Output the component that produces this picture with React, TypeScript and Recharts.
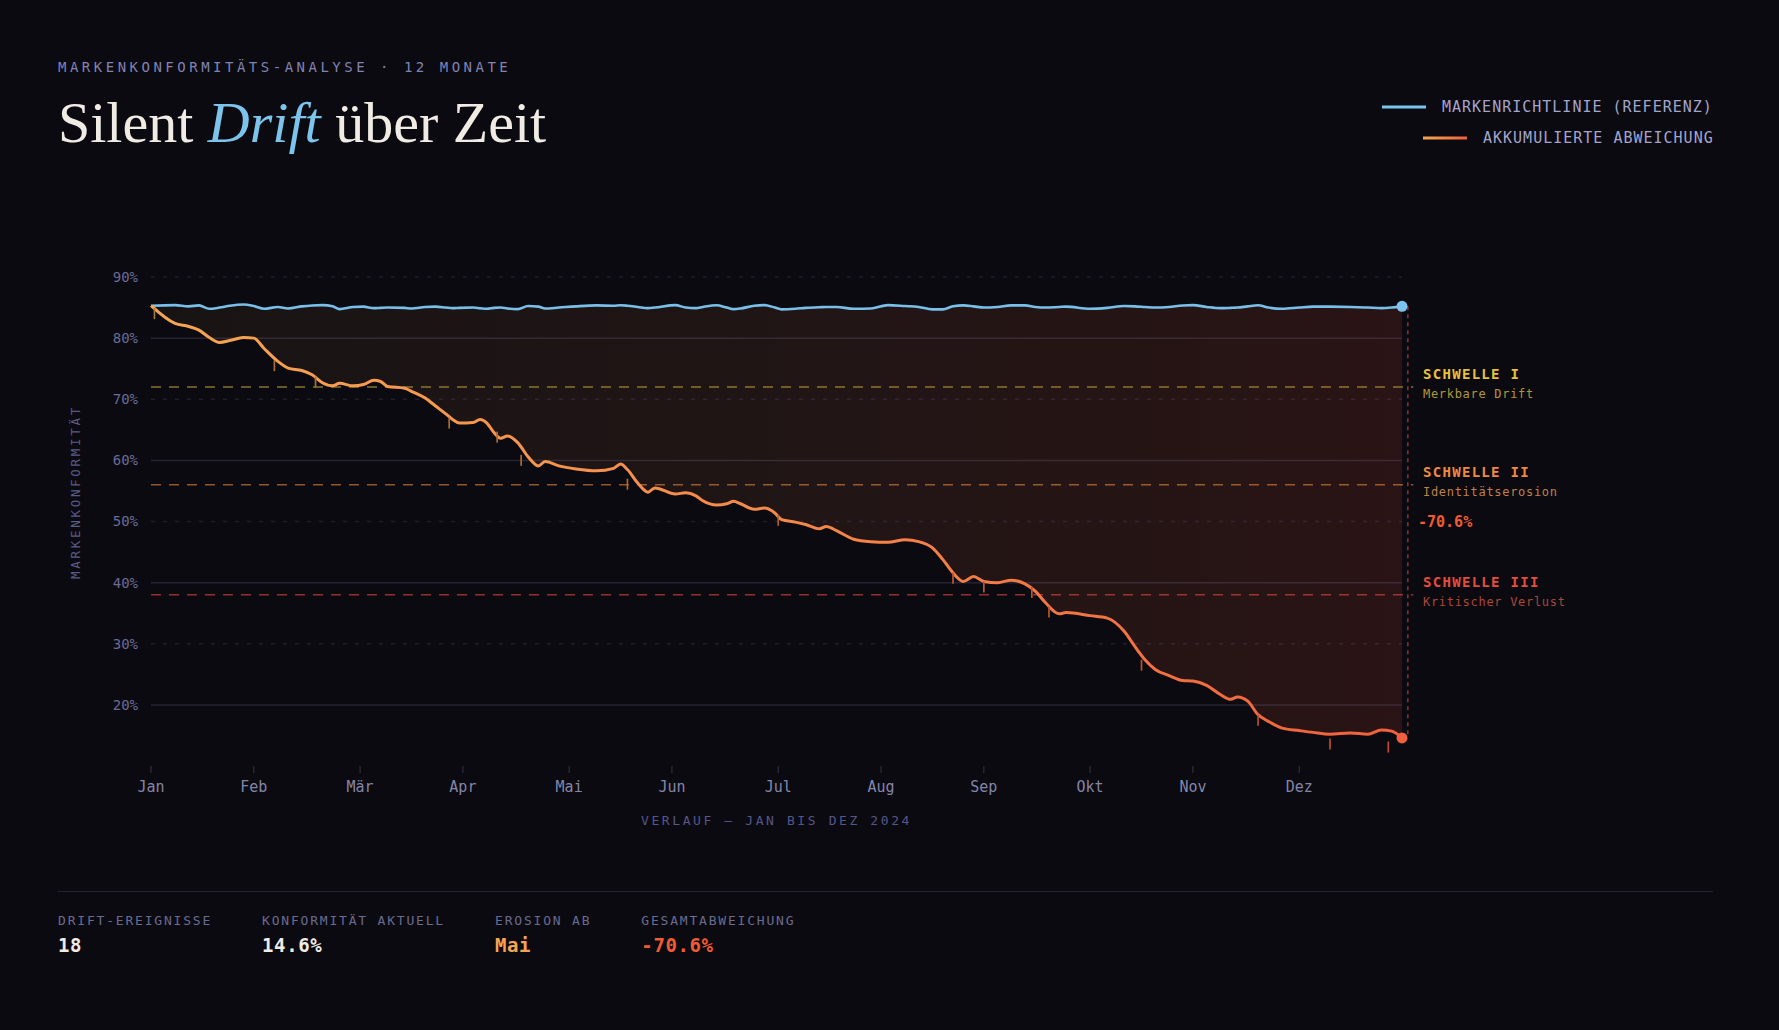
import React from "react";
import { ComposedChart, Line, Area, XAxis, YAxis, ReferenceLine, ReferenceDot, Scatter } from "recharts";

// Tag im Jahr (0 = 1. Jan, 365 = 31. Dez)
const days = [
  0, 7, 11, 14, 17, 20, 23, 27, 30, 33,
  37, 40, 44, 47, 50, 53, 55, 59, 62, 65,
  67, 69, 74, 76, 80, 83, 86, 88, 90, 94,
  96, 98, 100, 102, 104, 107, 110, 113, 115, 119,
  124, 130, 135, 137, 139, 142, 145, 147, 153, 156,
  159, 161, 165, 168, 170, 172, 176, 179, 182, 184,
  188, 191, 195, 197, 200, 205, 210, 215, 220, 224,
  228, 231, 234, 237, 240, 243, 247, 251, 255, 258,
  261, 265, 267, 274, 279, 284, 287, 290, 293, 297,
  301, 304, 308, 312, 315, 317, 320, 323, 326, 330,
  335, 339, 344, 350, 355, 359, 362, 365,
];

const reference = [
  85.3, 85.4, 85.2, 85.35, 84.8, 85.0, 85.3, 85.5, 85.25, 84.8,
  85.1, 84.85, 85.2, 85.35, 85.4, 85.2, 84.75, 85.1, 85.15, 84.9,
  84.95, 85.0, 84.95, 84.85, 85.1, 85.15, 85.0, 84.9, 84.95, 85.0,
  84.9, 84.8, 84.95, 85.0, 84.85, 84.75, 85.25, 85.15, 84.85, 85.0,
  85.2, 85.35, 85.3, 85.37, 85.3, 85.1, 84.9, 85.0, 85.4, 85.0,
  84.9, 85.1, 85.37, 85.0, 84.75, 84.85, 85.3, 85.4, 85.0, 84.7,
  84.8, 84.95, 85.05, 85.1, 85.1, 84.8, 84.85, 85.4, 85.25, 85.1,
  84.7, 84.7, 85.2, 85.35, 85.2, 85.0, 85.1, 85.35, 85.35, 85.1,
  85.0, 85.1, 85.15, 84.8, 84.95, 85.25, 85.2, 85.1, 85.0, 85.1,
  85.35, 85.4, 85.1, 84.9, 84.95, 85.0, 85.2, 85.37, 85.0, 84.8,
  85.0, 85.15, 85.15, 85.1, 85.0, 84.9, 85.0, 85.2,
];

const drift = [
  85.3, 82.4, 81.9, 81.3, 80.1, 79.3, 79.6, 80.1, 80.0, 78.3,
  76.2, 75.1, 74.7, 74.0, 72.7, 72.2, 72.6, 72.2, 72.4, 73.1,
  72.9, 72.1, 71.8, 71.3, 70.2, 68.9, 67.6, 66.7, 66.1, 66.2,
  66.7, 66.1, 64.6, 63.6, 64.0, 62.9, 60.6, 59.1, 59.8, 59.1,
  58.6, 58.3, 58.7, 59.4, 58.5, 56.3, 54.8, 55.5, 54.5, 54.7,
  54.2, 53.4, 52.7, 52.9, 53.3, 52.9, 52.0, 52.2, 51.4, 50.3,
  49.9, 49.5, 48.8, 49.2, 48.5, 47.1, 46.7, 46.6, 47.0, 46.7,
  45.7, 43.8, 41.6, 40.2, 41.0, 40.2, 40.0, 40.4, 39.8, 38.6,
  36.7, 34.9, 35.1, 34.6, 34.2, 32.0, 29.6, 27.4, 25.8, 24.8,
  24.0, 23.9, 23.2, 21.7, 20.9, 21.3, 20.6, 18.4, 17.3, 16.2,
  15.8, 15.5, 15.2, 15.4, 15.2, 15.9, 15.7, 14.6,
];

// Drift-Ereignisse (kleine Markierungen unter der Kurve)
const eventDays = [1, 36, 48, 87, 101, 108, 139, 183, 234, 243, 257, 262, 289, 323, 344, 361];
const eventValues = [84.9, 76.4, 73.7, 67.0, 64.7, 60.9, 57.0, 51.1, 41.6, 40.2, 39.3, 36.1, 27.4, 18.4, 14.5, 14.0];

const monthLabels = ["Jan", "Feb", "Mär", "Apr", "Mai", "Jun", "Jul", "Aug", "Sep", "Okt", "Nov", "Dez"];
const monthTicks = [0, 30, 61, 91, 122, 152, 183, 213, 243, 274, 304, 335];
const yTicks = [20, 30, 40, 50, 60, 70, 80, 90];
const solidGrid = [20, 40, 60, 80];
const dashedGrid = [30, 50, 70, 90];

const thresholdValues = [72, 56, 38];
const thresholdTitles = ["SCHWELLE I", "SCHWELLE II", "SCHWELLE III"];
const thresholdSubtitles = ["Merkbare Drift", "Identitätserosion", "Kritischer Verlust"];

const statLabels = ["DRIFT-EREIGNISSE", "KONFORMITÄT AKTUELL", "EROSION AB", "GESAMTABWEICHUNG"];
const statValues = ["18", "14.6%", "Mai", "-70.6%"];

const BG = "#0a0a10";
const MONO = "'DejaVu Sans Mono', 'Liberation Mono', monospace";
const thresholdLine = ["#c9a83c", "#d9813f", "#d8493a"];
const thresholdTitleColor = ["#e8c23a", "#f08a40", "#e84c3c"];
const thresholdSubColor = ["#b09838", "#c08048", "#a8483a"];
const statColors = ["#f0ebe3", "#f0ebe3", "#f5a552", "#f25a32"];

const rows = days.map((day, i) => ({
  day,
  ref: reference[i],
  drift: drift[i],
  band: [drift[i], reference[i]],
}));
const eventRows = eventDays.map((day, i) => ({ day, value: eventValues[i] }));

const last = days.length - 1;
const lastDay = days[last];
const refEnd = reference[last];
const driftEnd = drift[last];
const gap = Math.round((refEnd - driftEnd) * 10) / 10;

function mix(a: string, b: string, t: number) {
  const pa = [1, 3, 5].map((k) => parseInt(a.slice(k, k + 2), 16));
  const pb = [1, 3, 5].map((k) => parseInt(b.slice(k, k + 2), 16));
  const c = pa.map((v, k) => Math.round(v + (pb[k] - v) * t));
  return `rgb(${c[0]},${c[1]},${c[2]})`;
}

function EventTick(props: any) {
  const { cx, cy } = props;
  if (cx == null || cy == null) return null;
  const t = Math.min(1, Math.max(0, (cx - 151) / 1251));
  return <line x1={cx} y1={cy} x2={cx} y2={cy + 11} stroke={mix("#a07838", "#c4462f", t)} strokeWidth={1.7} />;
}

function thresholdLabel(i: number) {
  return (props: any) => {
    const { cx, cy } = props;
    if (cx == null || cy == null) return <g />;
    return (
      <g>
        <text x={cx + 21} y={cy - 13} dominantBaseline="central" fill={thresholdTitleColor[i]}
          fontFamily={MONO} fontSize={14} fontWeight={700} letterSpacing={1.3}>
          {thresholdTitles[i]}
        </text>
        <text x={cx + 21} y={cy + 7} dominantBaseline="central" fill={thresholdSubColor[i]}
          fontFamily={MONO} fontSize={12} letterSpacing={0.7}>
          {thresholdSubtitles[i]}
        </text>
      </g>
    );
  };
}

function gapLabel(props: any) {
  const { cx, cy } = props;
  if (cx == null || cy == null) return <g />;
  return (
    <text x={cx + 16} y={cy} dominantBaseline="central" fill="#f25a30" fontFamily={MONO} fontSize={15} fontWeight={700}>
      {`-${gap.toFixed(1)}%`}
    </text>
  );
}

export default function App() {
  let statX = 58;
  const statPos = statLabels.map((l) => {
    const x = statX;
    statX += l.length * 9.63 + 50;
    return x;
  });

  return (
    <div style={{ position: "relative", width: 1779, height: 1030, background: BG, overflow: "hidden" }}>
      <style>{`body{margin:0;background:${BG};}`}</style>
      <div style={{ position: "absolute", left: 0, top: 0 }}>
        <ComposedChart width={1779} height={1030} data={rows} margin={{ top: 277, right: 377, bottom: 234, left: 91 }}>
          <defs>
            <linearGradient id="bandFill" x1="0" y1="0" x2="1" y2="0">
              <stop offset="0%" stopColor="#f5a050" stopOpacity={0.1} />
              <stop offset="50%" stopColor="#f27841" stopOpacity={0.16} />
              <stop offset="100%" stopColor="#f05032" stopOpacity={0.23} />
            </linearGradient>
            <linearGradient id="driftStroke" x1="0" y1="0" x2="1" y2="0">
              <stop offset="0%" stopColor="#f7a552" />
              <stop offset="50%" stopColor="#f5894a" />
              <stop offset="100%" stopColor="#f0603c" />
            </linearGradient>
          </defs>
          <XAxis
            dataKey="day"
            type="number"
            domain={[0, 365]}
            ticks={monthTicks}
            tickFormatter={(v: number) => monthLabels[monthTicks.indexOf(v)]}
            axisLine={false}
            tickLine={{ stroke: "#34344a" }}
            tickSize={7}
            tickMargin={8}
            height={30}
            interval={0}
            tick={{ fill: "#8585a8", fontSize: 15, fontFamily: MONO }}
          />
          <YAxis
            type="number"
            domain={[10, 90]}
            ticks={yTicks}
            tickFormatter={(v: number) => `${v}%`}
            axisLine={false}
            tickLine={false}
            tickMargin={7}
            width={60}
            interval={0}
            tick={{ fill: "#6b6b96", fontSize: 14, fontFamily: MONO }}
          />
          {solidGrid.map((v) => (
            <ReferenceLine key={`s${v}`} y={v} stroke="#8a80b0" strokeOpacity={0.22} strokeWidth={1.5} />
          ))}
          {dashedGrid.map((v) => (
            <ReferenceLine key={`d${v}`} y={v} stroke="#8a80b0" strokeOpacity={0.17} strokeWidth={1.5} strokeDasharray="4 8" />
          ))}
          <Area
            dataKey="band"
            type="monotone"
            fill="url(#bandFill)"
            stroke="none"
            isAnimationActive={false}
          />
          {thresholdValues.map((v, i) => (
            <ReferenceLine
              key={`t${v}`}
              segment={[{ x: 0, y: v }, { x: lastDay + 3.3, y: v }]}
              ifOverflow="visible"
              stroke={thresholdLine[i]}
              strokeOpacity={0.65}
              strokeWidth={1.5}
              strokeDasharray="10 8"
            />
          ))}
          <ReferenceLine
            segment={[{ x: lastDay + 1.7, y: refEnd }, { x: lastDay + 1.7, y: driftEnd }]}
            ifOverflow="visible"
            stroke="#b0402e"
            strokeOpacity={0.8}
            strokeWidth={1.5}
            strokeDasharray="4 4"
          />
          <Line dataKey="ref" type="monotone" stroke="#78c0ea" strokeWidth={2.6} dot={false} isAnimationActive={false} />
          <Line dataKey="drift" type="monotone" stroke="url(#driftStroke)" strokeWidth={3} dot={false} isAnimationActive={false} />
          <Scatter data={eventRows} dataKey="value" shape={EventTick} isAnimationActive={false} />
          <ReferenceDot x={lastDay} y={refEnd} r={5.5} fill="#7cc4ec" stroke="none" />
          <ReferenceDot x={lastDay} y={driftEnd} r={5.5} fill="#f06040" stroke="none" />
          {thresholdValues.map((v, i) => (
            <ReferenceDot key={`l${v}`} x={lastDay} y={v} r={0} shape={thresholdLabel(i)} />
          ))}
          <ReferenceDot x={lastDay} y={(refEnd + driftEnd) / 2} r={0} shape={gapLabel} />
        </ComposedChart>
      </div>
      <svg width={1779} height={1030} style={{ position: "absolute", left: 0, top: 0, pointerEvents: "none" }}>
        <text x={58} y={67} dominantBaseline="central" fill="#8282b4" fontFamily={MONO} fontSize={14} letterSpacing={3.5}>
          MARKENKONFORMITÄTS-ANALYSE · 12 MONATE
        </text>
        <text x={58} y={142} fill="#f0ebe3" fontFamily="'Liberation Serif', serif" fontSize={58}>
          {"Silent "}
          <tspan fill="#7cc4ec" fontStyle="italic">Drift</tspan>
          {" über Zeit"}
        </text>

        <line x1={1382} y1={107} x2={1426} y2={107} stroke="#7cc4ec" strokeWidth={3} />
        <text x={1442} y={107} dominantBaseline="central" fill="#a4a4cc" fontFamily={MONO} fontSize={15} letterSpacing={1}>
          MARKENRICHTLINIE (REFERENZ)
        </text>
        <defs>
          <linearGradient id="legendDrift" x1="0" y1="0" x2="1" y2="0">
            <stop offset="0%" stopColor="#f7a552" />
            <stop offset="100%" stopColor="#f0603c" />
          </linearGradient>
        </defs>
        <rect x={1423} y={136.5} width={44} height={3} fill="url(#legendDrift)" />
        <text x={1483} y={138} dominantBaseline="central" fill="#a4a4cc" fontFamily={MONO} fontSize={15} letterSpacing={1}>
          AKKUMULIERTE ABWEICHUNG
        </text>

        <text x={75} y={492} transform="rotate(-90 75 492)" textAnchor="middle" dominantBaseline="central"
          fill="#5a5a86" fontFamily={MONO} fontSize={12.5} letterSpacing={2.7}>
          MARKENKONFORMITÄT
        </text>
        <text x={776.5} y={820} textAnchor="middle" dominantBaseline="central" fill="#56568a"
          fontFamily={MONO} fontSize={13} letterSpacing={2.6}>
          VERLAUF — JAN BIS DEZ 2024
        </text>

        <line x1={58} y1={891.5} x2={1713} y2={891.5} stroke="#23233a" strokeWidth={1} />
        {statLabels.map((l, i) => (
          <g key={l}>
            <text x={statPos[i]} y={920} dominantBaseline="central" fill="#6a6a92" fontFamily={MONO} fontSize={13} letterSpacing={1.8}>
              {l}
            </text>
            <text x={statPos[i]} y={945} dominantBaseline="central" fill={statColors[i]} fontFamily={MONO} fontSize={19} fontWeight={700} letterSpacing={0.6}>
              {statValues[i]}
            </text>
          </g>
        ))}
      </svg>
    </div>
  );
}
